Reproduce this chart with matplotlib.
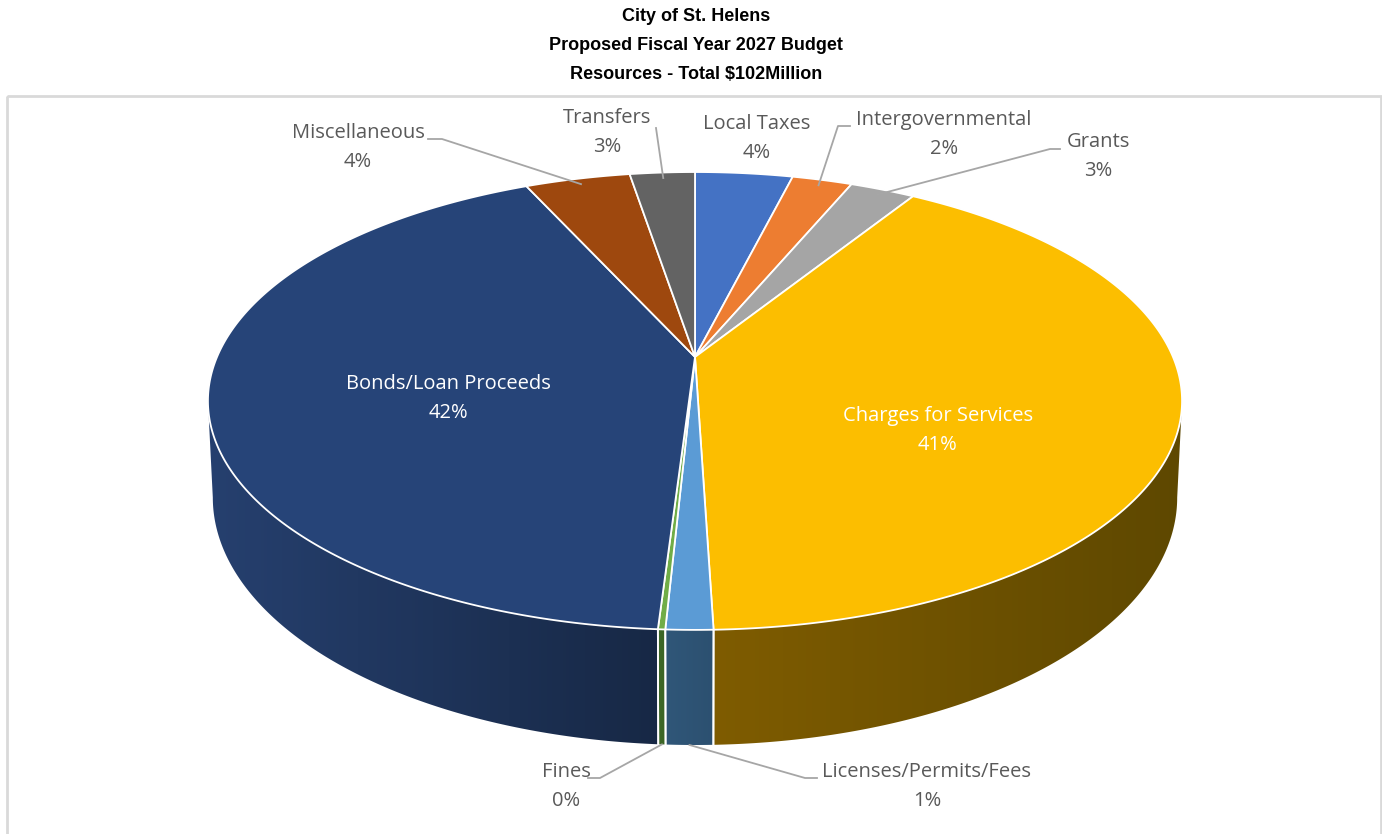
import numpy as np
import matplotlib.pyplot as plt
from matplotlib.patches import Polygon, Rectangle
from matplotlib.colors import to_rgb

# slices, clockwise from 12 o'clock
categories = ["Local Taxes", "Intergovernmental", "Grants", "Charges for Services",
              "Licenses/Permits/Fees", "Fines", "Bonds/Loan Proceeds",
              "Miscellaneous", "Transfers"]
shares = [3.9, 2.4, 2.6, 40.6, 1.3, 0.2, 42.2, 4.2, 2.6]

title_lines = ["City of St. Helens", "Proposed Fiscal Year 2027 Budget",
               "Resources - Total $102Million"]

top_colors = ["#4472C4", "#ED7D31", "#A5A5A5", "#FCBE00", "#5B9BD5",
              "#70AD47", "#264478", "#9E480E", "#636363"]
wall_left = ["#2f4f8a", "#a45621", "#737373", "#7f5c00", "#305779",
             "#3f6a28", "#26406f", "#6e320a", "#454545"]
wall_right = ["#27427a", "#8a481b", "#606060", "#5e4800", "#2c5070",
              "#3a6324", "#172845", "#5e2b08", "#3b3b3b"]

# label layout (pixel centre of the name line), text colour, leader elbow
label_pos = [(757, 124), (944, 120), (1098, 142), (938, 416), (927, 772),
             (566, 772), (448, 384), (358, 133), (607, 118)]
label_inside = [False, False, False, True, False, False, True, False, False]
leader = [None, [(850, 126), (838, 126)], [(1060, 149), (1050, 149)], None,
          [(817, 778), (805, 778)], [(588, 778), (600, 778)], None,
          [(428, 139), (442, 139)], [(656, 128)]]

W, H = 1382, 834
fig = plt.figure(figsize=(W / 100, H / 100), dpi=100)
ax = fig.add_axes([0, 0, 1, 1])
ax.set_xlim(0, W)
ax.set_ylim(H, 0)
ax.axis("off")

# projected pie geometry (pixels)
cx, cy = 695, 357
R, S, p = 478, 220.5, 0.192
D, k = 93, 0.99


def top_pt(t):
    u, v = np.cos(t), np.sin(t)
    return cx + R * u / (1 + p * v), cy - S * v / (1 + p * v)


def bot_pt(t):
    u, v = np.cos(t), np.sin(t)
    return cx + k * R * u / (1 + p * v), cy - S * v / (1 + p * v) + D / (1 + p * v)


fr = np.cumsum([0] + shares) / sum(shares)
starts = np.pi / 2 - 2 * np.pi * fr[:-1]
ends = np.pi / 2 - 2 * np.pi * fr[1:]

vis_lo, vis_hi = -np.pi + np.arcsin(p), -np.arcsin(p)

# side walls, gradient images clipped to the wall outline
for i in range(len(shares)):
    t1, t2 = starts[i], ends[i]
    for off in (0, -2 * np.pi, 2 * np.pi):
        a, b = max(t2 + off, vis_lo), min(t1 + off, vis_hi)
        if a >= b:
            continue
        ts = np.linspace(b, a, max(4, int((b - a) * 200)))
        outline = [top_pt(t) for t in ts] + [bot_pt(t) for t in ts[::-1]]
        xs = [q[0] for q in outline]
        ys = [q[1] for q in outline]
        x0, x1 = min(xs) - 2, max(xs) + 2
        y0, y1 = min(ys) - 2, max(ys) + 2
        c0, c1 = np.array(to_rgb(wall_left[i])), np.array(to_rgb(wall_right[i]))
        f = np.linspace(0, 1, 256)[:, None]
        grad = (c0 + (c1 - c0) * f)[None, :, :]
        im = ax.imshow(grad, extent=(x0, x1, y1, y0), aspect="auto",
                       interpolation="bilinear", zorder=1)
        clip = Polygon(outline, closed=True, facecolor="none", edgecolor="none",
                       transform=ax.transData)
        ax.add_patch(clip)
        im.set_clip_path(clip)
        for t in (a, b):
            if vis_lo < t < vis_hi:
                (xa, ya), (xb, yb) = top_pt(t), bot_pt(t)
                ax.plot([xa, xb], [ya, yb], color="white", lw=1.3, zorder=1.5)

# top faces
for i in range(len(shares)):
    ts = np.linspace(starts[i], ends[i], max(4, int(abs(starts[i] - ends[i]) * 120)))
    pts = [(cx, cy)] + [top_pt(t) for t in ts]
    ax.add_patch(Polygon(pts, closed=True, facecolor=top_colors[i],
                         edgecolor="white", lw=1.3, joinstyle="round", zorder=2))

# labels
for i, name in enumerate(categories):
    x, y = label_pos[i]
    col = "white" if label_inside[i] else "#595959"
    ax.text(x, y, name, ha="center", va="center", fontsize=14.5, color=col,
            family="Open Sans", zorder=4)
    ax.text(x, y + 29, f"{round(shares[i])}%", ha="center", va="center",
            fontsize=14.5, color=col, family="Open Sans", zorder=4)
    if leader[i] is not None:
        tm = (starts[i] + ends[i]) / 2
        if np.sin(tm) < 0:
            ax_, ay_ = bot_pt(tm)
        else:
            tx, ty = top_pt(tm)
            ax_, ay_ = cx + (tx - cx) * 0.97, cy + (ty - cy) * 0.97
        xs = [pt[0] for pt in leader[i]] + [ax_]
        ys = [pt[1] for pt in leader[i]] + [ay_]
        ax.plot(xs, ys, color="#a6a6a6", lw=1.3, zorder=3)

for j, line in enumerate(title_lines):
    ax.text(W / 2 + 5, 16 + j * 29, line, ha="center", va="center", fontsize=13,
            fontweight="bold", family="Liberation Sans", color="black")

ax.add_patch(Rectangle((7, 96), 1374, 760, fill=False, edgecolor="#d9d9d9",
                       lw=2, zorder=0))

fig.savefig("out.png", dpi=100)
